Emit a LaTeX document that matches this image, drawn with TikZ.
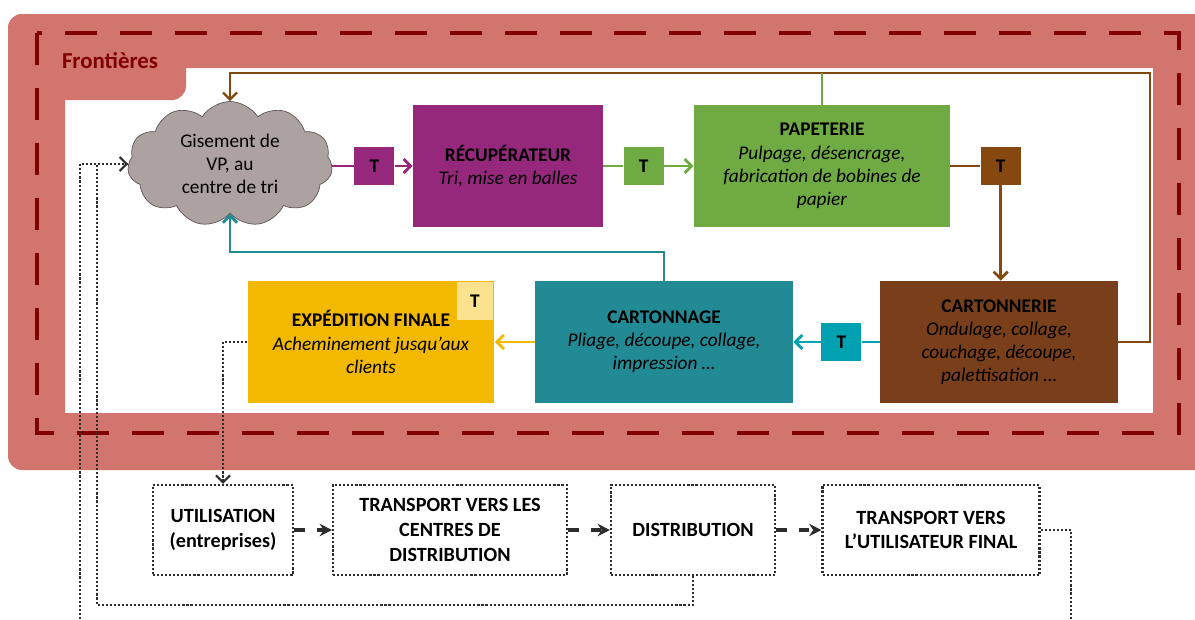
\documentclass[tikz,border=0pt]{standalone}
\usepackage{fontspec}
\setmainfont{Carlito}
\usetikzlibrary{positioning, arrows.meta, shapes.symbols}
\definecolor{bandSalmon}{RGB}{210, 117, 110}
\definecolor{borderRed}{RGB}{128, 0, 0}
\definecolor{cloudGray}{RGB}{172, 162, 162}
\definecolor{cloudEdge}{RGB}{95, 85, 85}
\definecolor{recupPurple}{RGB}{149, 40, 124}
\definecolor{papetGreen}{RGB}{112, 170, 66}
\definecolor{cartonBrown}{RGB}{121, 63, 26}
\definecolor{tBrown}{RGB}{133, 72, 14}
\definecolor{tTeal}{RGB}{0, 162, 178}
\definecolor{cartonnageTeal}{RGB}{34, 138, 149}
\definecolor{expeYellow}{RGB}{242, 185, 0}
\definecolor{expeLight}{RGB}{251, 226, 143}
\definecolor{lineGray}{RGB}{45, 45, 45}

\begin{document}
\begin{tikzpicture}[
    x=0.02cm, y=-0.02cm,
    font=\fontsize{11}{13.2}\selectfont,
    >={Straight Barb[length=4pt,width=8pt]},
    procbox/.style={
        rectangle,
        align=center,
        inner sep=3pt,
        minimum height=2.44cm,
        text=black
    },
    tbox/.style={
        rectangle,
        inner sep=0pt,
        minimum width=0.8cm,
        minimum height=0.76cm,
        font=\fontsize{11}{13.2}\selectfont\bfseries
    },
    cloudbox/.style={
        cloud,
        cloud puffs=11,
        cloud puff arc=115,
        aspect=1.6,
        draw=cloudEdge,
        fill=cloudGray,
        inner sep=0pt,
        minimum width=4.1cm,
        minimum height=2.5cm,
        align=center
    },
    bottombox/.style={
        rectangle,
        draw=lineGray,
        line width=1.2pt,
        dash pattern=on 1.2pt off 1.1pt,
        align=center,
        minimum height=1.8cm,
        inner xsep=2pt,
        font=\fontsize{11.5}{14}\selectfont\bfseries
    },
    flow/.style={
        line width=1.6pt
    },
    dotline/.style={
        draw=lineGray,
        line width=1.2pt,
        dash pattern=on 1.2pt off 1.1pt
    },
    dasharrow/.style={
        draw=lineGray,
        line width=2pt,
        dash pattern=on 6pt off 7pt,
        -{Stealth[length=7pt,width=7pt]}
    },
    borderdash/.style={
        draw=borderRed,
        line width=2.8pt,
        dash pattern=on 0.64cm off 0.46cm
    }
]
\useasboundingbox (0,0) rectangle (1195,619);

% Frontieres band
\fill[bandSalmon, even odd rule, rounded corners=8pt] (8,14) rectangle (1210,470) [sharp corners] (65,68) rectangle (1153,413);
\fill[bandSalmon, rounded corners=8pt] (8,14) rectangle (186,100);
\draw[borderdash] (37,33) rectangle (1179,433);
\node[font=\fontsize{13}{15}\selectfont\bfseries, text=borderRed] (frontieres) at (110,61) {Frontières};

% 1. Top row
\node[cloudbox] (gisement) at (230,164) {Gisement de\\VP, au\\centre de tri};
\node[procbox, fill=recupPurple, minimum width=3.8cm] (recup) at (508,166) {\textbf{RÉCUPÉRATEUR}\\\textit{Tri, mise en balles}};
\node[tbox, fill=recupPurple, left=0.36cm of recup] (tpurple) {T};
\node[tbox, fill=papetGreen, right=0.4cm of recup] (tgreen) {T};
\node[procbox, fill=papetGreen, minimum width=5.12cm] (papet) at (822,166) {\textbf{PAPETERIE}\\\textit{Pulpage, désencrage,}\\\textit{fabrication de bobines de}\\\textit{papier}};
\node[tbox, fill=tBrown, right=0.6cm of papet] (tbrown) {T};

% 2. Second row
\node[procbox, fill=cartonBrown, minimum width=4.76cm] (cartonnerie) at (999,342) {\textbf{CARTONNERIE}\\\textit{Ondulage, collage,}\\\textit{couchage, découpe,}\\\textit{palettisation …}};
\node[tbox, fill=tTeal, left=0.36cm of cartonnerie] (tteal) {T};
\node[procbox, fill=cartonnageTeal, minimum width=5.16cm] (cartonnage) at (664,342) {\textbf{CARTONNAGE}\\\textit{Pliage, découpe, collage,}\\\textit{impression …}};
\node[procbox, fill=expeYellow, minimum width=4.94cm] (expe) at (371,342) {\textbf{EXPÉDITION FINALE}\\\textit{Acheminement jusqu’aux}\\\textit{clients}};
\node[tbox, fill=expeLight, minimum width=0.72cm] (texpe) at (475,301) {T};

% 3. Outside the boundary
\node[bottombox, minimum width=2.8cm] (util) at (223,530) {UTILISATION\\(entreprises)};
\node[bottombox, minimum width=4.68cm] (transdist) at (450,530) {TRANSPORT VERS LES\\CENTRES DE\\DISTRIBUTION};
\node[bottombox, minimum width=3.28cm] (distrib) at (693,530) {DISTRIBUTION};
\node[bottombox, minimum width=4.34cm] (transfinal) at (931,530) {TRANSPORT VERS\\L’UTILISATEUR FINAL};

\coordinate (loopcorner) at (1150,73);
\coordinate (tealturn) at (400,252);
\coordinate (backturn) at (97,605);
\coordinate (leftfoot) at (80,619);
\coordinate (rightfoot) at (1071,619);

% main flow
\draw[flow, recupPurple] (tpurple.west -| gisement.east) -- (tpurple.west);
\draw[flow, recupPurple, ->] (tpurple.east) -- (recup.west);
\draw[flow, papetGreen] (recup.east) -- (tgreen.west);
\draw[flow, papetGreen, ->] (tgreen.east) -- (papet.west);
\draw[flow, tBrown] (papet.east) -- (tbrown.west);
\draw[flow, tBrown, ->] (tbrown.south) -- (tbrown.south |- cartonnerie.north);
\draw[flow, tTeal] (cartonnerie.west) -- (tteal.east);
\draw[flow, tTeal, ->] (tteal.west) -- (cartonnage.east);
\draw[flow, expeYellow, ->] (cartonnage.west) -- (expe.east);

% returns to the cloud
\draw[flow, tBrown, line width=1.3pt, ->] (cartonnerie.east) -| (loopcorner) -| (gisement.north);
\draw[flow, papetGreen, line width=1.3pt] (papet.north) -- (papet.north |- loopcorner);
\draw[flow, cartonnageTeal, ->] (cartonnage.north) |- (tealturn) -| (gisement.south);

% after shipping
\draw[dotline, ->] (expe.west) -| (util.north);
\draw[dasharrow] (util) -- (transdist);
\draw[dasharrow] (transdist) -- (distrib);
\draw[dasharrow] (distrib) -- (transfinal);
\draw[dotline] (transfinal.east) -| (rightfoot);
\draw[dotline, ->] (distrib.south) |- (backturn) |- (gisement.west);
\draw[dotline] (leftfoot) |- (gisement.west);

\end{tikzpicture}
\end{document}
